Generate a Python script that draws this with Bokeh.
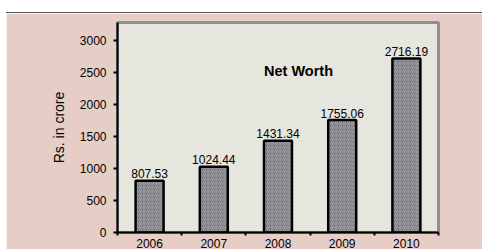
from bokeh.plotting import figure
from bokeh.models import Range1d, FixedTicker, Label, ColumnDataSource
from bokeh.core.properties import value
from bokeh.embed import file_html
from bokeh.resources import INLINE

years = ["2006", "2007", "2008", "2009", "2010"]
net_worth = [807.53, 1024.44, 1431.34, 1755.06, 2716.19]
y_ticks = [0, 500, 1000, 1500, 2000, 2500, 3000]

xs = list(range(1, len(years) + 1))
labels = ["%.2f" % v for v in net_worth]
src = ColumnDataSource(dict(x=xs, top=net_worth, lab=labels))

FONT = "Liberation Sans"

p = figure(width=476, height=237, output_backend="svg", toolbar_location=None,
           x_range=Range1d(0.5, len(years) + 0.5), y_range=Range1d(0, 3278),
           min_border_left=111, min_border_right=44, min_border_top=9, min_border_bottom=16,
           margin=(12, 0, 0, 6),
           styles={"border-top": "1px solid #555555"})

p.border_fill_color = "#E6CEC7"
p.background_fill_color = "#E6E5DE"
p.outline_line_color = "#8E9194"
p.outline_line_width = 3
p.xgrid.visible = False
p.ygrid.visible = False

p.vbar(x="x", top="top", width=0.436, bottom=0, source=src,
       fill_color="#5E606A", line_color="black", line_width=2.5,
       hatch_pattern="right_diagonal_line", hatch_color="#C4C4C8",
       hatch_alpha=0.6, hatch_scale=4, hatch_weight=1.5)

p.text(x="x", y="top", text="lab", source=src, text_align="center",
       text_baseline="alphabetic", y_offset=-7, text_font=value(FONT),
       text_font_size="12px", text_color="black")

p.add_layout(Label(x=3.32, y=2520, text="Net Worth", text_align="center",
                   text_baseline="middle", text_font=FONT, text_font_size="14.5px",
                   text_font_style="bold", text_color="black"))

# x axis
p.xaxis.ticker = FixedTicker(ticks=xs, minor_ticks=[x + 0.5 for x in [0] + xs])
p.xaxis.major_label_overrides = {x: y for x, y in zip(xs, years)}
p.xaxis.major_tick_out = 0
p.xaxis.major_tick_in = 0
p.xaxis.minor_tick_out = 3
p.xaxis.minor_tick_in = 0
p.xaxis.minor_tick_line_width = 2
p.xaxis.minor_tick_line_color = "black"
p.xaxis.axis_line_color = "black"
p.xaxis.axis_line_width = 2
p.xaxis.major_label_standoff = 3
p.xaxis.major_label_text_font = FONT
p.xaxis.major_label_text_font_size = "12px"
p.xaxis.major_label_text_color = "black"

# y axis
p.yaxis.ticker = FixedTicker(ticks=y_ticks, minor_ticks=[])
p.yaxis.major_tick_out = 4
p.yaxis.major_tick_in = 0
p.yaxis.major_tick_line_width = 2
p.yaxis.major_tick_line_color = "black"
p.yaxis.axis_line_color = "black"
p.yaxis.axis_line_width = 2
p.yaxis.major_label_standoff = 7
p.yaxis.major_label_text_font = FONT
p.yaxis.major_label_text_font_size = "12px"
p.yaxis.major_label_text_color = "black"
p.yaxis.axis_label = "Rs. in crore"
p.yaxis.axis_label_text_font = FONT
p.yaxis.axis_label_text_font_size = "14px"
p.yaxis.axis_label_text_font_style = "normal"
p.yaxis.axis_label_text_color = "black"
p.yaxis.axis_label_standoff = 10

open("out.html", "w").write(file_html(p, INLINE))
